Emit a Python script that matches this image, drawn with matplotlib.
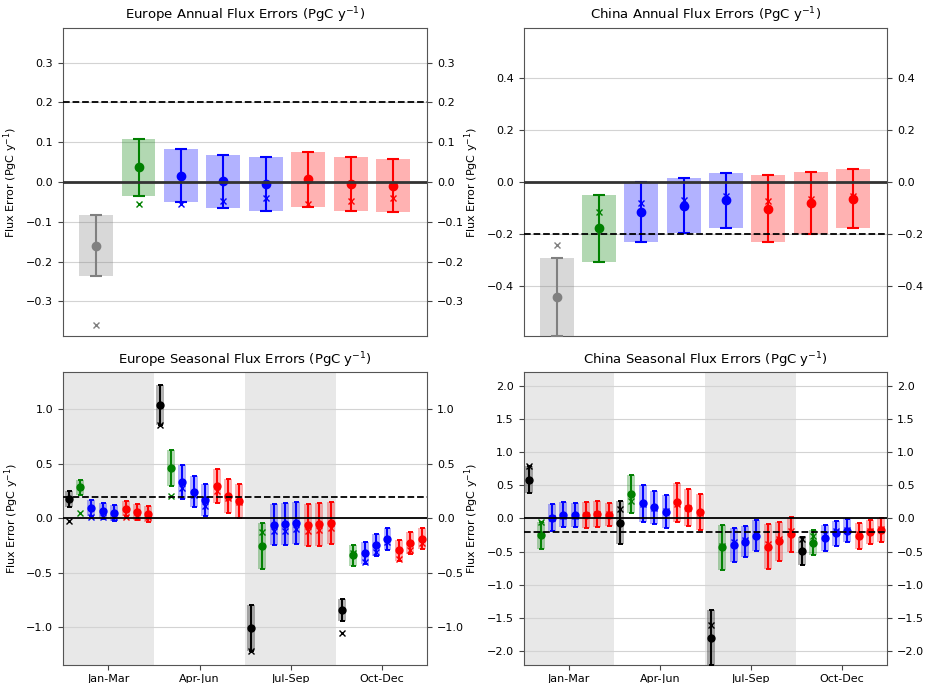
import matplotlib
matplotlib.use("Agg")
import matplotlib.pyplot as plt
import numpy as np

colors = ["gray", "green", "blue", "blue", "blue", "red", "red", "red"]
seasons = ["Jan-Mar", "Apr-Jun", "Jul-Sep", "Oct-Dec"]

# annual: mean, half-width of box / error bar, and the "x" marker value
eu_ann_mean = [-0.160, 0.037, 0.016, 0.002, -0.006, 0.007, -0.004, -0.009]
eu_ann_err = [0.076, 0.072, 0.067, 0.067, 0.068, 0.069, 0.068, 0.067]
eu_ann_x = [-0.359, -0.055, -0.055, -0.048, -0.040, -0.055, -0.048, -0.041]

cn_ann_mean = [-0.443, -0.179, -0.117, -0.091, -0.071, -0.103, -0.082, -0.065]
cn_ann_err = [0.151, 0.130, 0.116, 0.106, 0.107, 0.130, 0.119, 0.114]
cn_ann_x = [-0.245, -0.115, -0.081, -0.068, -0.055, -0.074, -0.066, -0.053]

# seasonal, one row per season
eu_seas_mean = [
    [0.178, 0.284, 0.095, 0.069, 0.047, 0.089, 0.060, 0.041],
    [1.037, 0.462, 0.336, 0.245, 0.171, 0.297, 0.207, 0.158],
    [-1.009, -0.250, -0.058, -0.050, -0.046, -0.063, -0.054, -0.040],
    [-0.841, -0.340, -0.315, -0.244, -0.188, -0.291, -0.225, -0.185],
]
eu_seas_err = [
    [0.077, 0.067, 0.077, 0.072, 0.075, 0.071, 0.075, 0.075],
    [0.184, 0.162, 0.154, 0.145, 0.147, 0.156, 0.155, 0.155],
    [0.211, 0.210, 0.187, 0.190, 0.193, 0.194, 0.195, 0.193],
    [0.104, 0.098, 0.101, 0.100, 0.099, 0.095, 0.097, 0.096],
]
eu_seas_x = [
    [-0.028, 0.046, 0.012, 0.009, 0.009, 0.009, 0.009, 0.009],
    [0.853, 0.208, 0.279, 0.217, 0.117, 0.248, 0.187, 0.147],
    [-1.220, -0.128, -0.120, -0.113, -0.098, -0.120, -0.110, -0.089],
    [-1.049, -0.318, -0.400, -0.309, -0.220, -0.370, -0.287, -0.226],
]

cn_seas_mean = [
    [0.585, -0.254, 0.012, 0.055, 0.050, 0.055, 0.072, 0.055],
    [-0.063, 0.367, 0.227, 0.169, 0.100, 0.242, 0.163, 0.095],
    [-1.794, -0.437, -0.404, -0.349, -0.261, -0.425, -0.347, -0.238],
    [-0.493, -0.365, -0.297, -0.224, -0.184, -0.266, -0.204, -0.169],
]
cn_seas_err = [
    [0.209, 0.204, 0.199, 0.186, 0.181, 0.196, 0.194, 0.176],
    [0.324, 0.287, 0.277, 0.249, 0.252, 0.292, 0.284, 0.277],
    [0.412, 0.337, 0.254, 0.239, 0.236, 0.340, 0.297, 0.263],
    [0.212, 0.189, 0.191, 0.189, 0.174, 0.191, 0.179, 0.179],
]
cn_seas_x = [
    [0.794, -0.050, 0.010, 0.040, 0.040, 0.050, 0.065, 0.060],
    [0.140, 0.266, 0.216, 0.156, 0.106, 0.211, 0.161, 0.080],
    [-1.603, -0.420, -0.357, -0.322, -0.236, -0.382, -0.307, -0.191],
    [-0.312, -0.261, -0.241, -0.191, -0.171, -0.231, -0.186, -0.156],
]


def draw_item(ax, x, m, e, xm, c, w, ms, cap, lw):
    ax.bar(x, 2 * e, bottom=m - e, width=w, color=c, alpha=0.3, zorder=2)
    ax.errorbar(x, m, yerr=e, fmt="o", color=c, ms=ms, capsize=cap,
                elinewidth=lw, capthick=lw, zorder=3)
    ax.plot(x, xm, "x", color=c, ms=ms - 1, mew=1.0, zorder=3)


def style_axis(ax, title, ylim, ticks, ref):
    ax.set_title(title, fontsize=9.5)
    ax.set_ylim(-ylim, ylim)
    ax.set_yticks(ticks)
    ax.grid(axis="y", color="lightgray", lw=0.8, zorder=0)
    ax.set_axisbelow(True)
    ax.tick_params(labelsize=8, right=True, labelright=True, color="#444444")
    ax.set_ylabel("Flux Error (PgC y$^{-1}$)", fontsize=8)
    for sp in ax.spines.values():
        sp.set_color("#555555")
    ax.axhline(ref, color="black", ls="--", lw=1.3, zorder=4)


def annual(ax, mean, err, xm, title, ylim, ticks, ref):
    for i in range(8):
        draw_item(ax, i, mean[i], err[i], xm[i], colors[i], 0.8, 6, 4, 1.5)
    ax.axhline(0, color="#333333", lw=2, zorder=4)
    ax.set_xlim(-0.78, 7.8)
    ax.set_xticks([])
    style_axis(ax, title, ylim, ticks, ref)


def seasonal(ax, mean, err, xm, title, ylim, ticks, ref):
    for s in range(4):
        if s % 2 == 0:
            ax.axvspan(s * 8, s * 8 + 8, color="lightgray", alpha=0.5, lw=0, zorder=0)
        for i in range(8):
            c = "black" if i == 0 else colors[i]
            draw_item(ax, s * 8 + i + 0.5, mean[s][i], err[s][i], xm[s][i],
                      c, 0.7, 5, 1.8, 1.4)
    ax.axhline(0, color="black", lw=1.3, zorder=4)
    ax.set_xlim(0, 32)
    ax.set_xticks([s * 8 + 4 for s in range(4)])
    ax.set_xticklabels(seasons)
    style_axis(ax, title, ylim, ticks, ref)


fig = plt.figure(figsize=(9.25, 6.83), dpi=100)
ax1 = fig.add_axes([0.068, 0.508, 0.394, 0.451])
ax2 = fig.add_axes([0.566, 0.508, 0.393, 0.451])
ax3 = fig.add_axes([0.068, 0.027, 0.394, 0.428])
ax4 = fig.add_axes([0.566, 0.027, 0.393, 0.428])

annual(ax1, np.array(eu_ann_mean), np.array(eu_ann_err), eu_ann_x,
       "Europe Annual Flux Errors (PgC y$^{-1}$)", 0.387,
       [-0.3, -0.2, -0.1, 0.0, 0.1, 0.2, 0.3], 0.2)
annual(ax2, np.array(cn_ann_mean), np.array(cn_ann_err), cn_ann_x,
       "China Annual Flux Errors (PgC y$^{-1}$)", 0.595,
       [-0.4, -0.2, 0.0, 0.2, 0.4], -0.2)
seasonal(ax3, eu_seas_mean, eu_seas_err, eu_seas_x,
         "Europe Seasonal Flux Errors (PgC y$^{-1}$)", 1.34,
         [-1.0, -0.5, 0.0, 0.5, 1.0], 0.2)
seasonal(ax4, cn_seas_mean, cn_seas_err, cn_seas_x,
         "China Seasonal Flux Errors (PgC y$^{-1}$)", 2.2,
         [-2.0, -1.5, -1.0, -0.5, 0.0, 0.5, 1.0, 1.5, 2.0], -0.2)

fig.savefig("out.png", dpi=100)
